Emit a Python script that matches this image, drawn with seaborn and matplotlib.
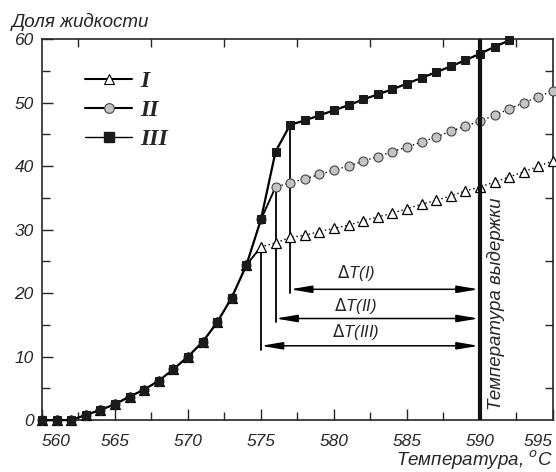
import numpy as np
import pandas as pd
import matplotlib
matplotlib.use("Agg")
import matplotlib.pyplot as plt
import seaborn as sns
from matplotlib.lines import Line2D

# temperatures, deg C
temp_III = list(range(560, 593))
temp_II = list(range(560, 596))
temp_I = list(range(560, 596))

# shared part of the curve (560..574)
low = [0, 0, 0, 0.8, 1.6, 2.5, 3.7, 4.8, 6.2, 8.0, 10.0, 12.3, 15.4, 19.3, 24.4]

frac_III = low + [31.6, 42.3, 46.5, 47.2, 48.0, 48.8, 49.6, 50.5, 51.3, 52.1, 53.0,
                  53.9, 54.8, 55.7, 56.7, 57.7, 58.8, 59.8]
frac_II = low + [31.6, 36.7, 37.4, 38.0, 38.7, 39.4, 40.0, 40.8, 41.5, 42.3, 43.0,
                 43.8, 44.6, 45.5, 46.3, 47.1, 48.0, 49.0, 50.0, 50.9, 51.9]
frac_I = low + [27.3, 27.9, 28.8, 29.1, 29.7, 30.2, 30.7, 31.4, 32.0, 32.6, 33.3,
                34.0, 34.6, 35.3, 36.1, 36.7, 37.5, 38.3, 39.1, 40.0, 40.8]

hold_temp = 590
# start temperatures and heights of the delta-T arrows
dt_labels = ['$\\Delta$T(I)', '$\\Delta$T(II)', '$\\Delta$T(III)']
dt_start = [577, 576, 575]
dt_top = [46.5, 36.7, 27.3]
dt_y = [20.6, 16.0, 11.7]
dt_text_y = [23.1, 17.9, 13.8]

sns.set_style("ticks")
plt.rcParams['font.family'] = ['Liberation Sans', 'DejaVu Sans']

fig = plt.figure(figsize=(5.56, 4.72), dpi=100)
ax = fig.add_axes([0.0755, 0.110, 0.919, 0.807])

sns.lineplot(x=temp_I, y=frac_I, ax=ax, color='black', lw=1.0, ls=(0, (1, 2)),
             marker='^', markersize=6.8, markerfacecolor='white', markeredgecolor='black',
             markeredgewidth=0.9, clip_on=False, zorder=3)
sns.lineplot(x=temp_II, y=frac_II, ax=ax, color='black', lw=1.0, ls=(0, (1, 2)),
             marker='o', markersize=6.5, markerfacecolor='#c4c4c4', markeredgecolor='#444444',
             markeredgewidth=0.8, clip_on=False, zorder=3)
# connecting segments at the split points
ax.plot([574, 575], [frac_I[14], frac_I[15]], color='black', lw=1.3, zorder=2)
ax.plot([575, 576], [frac_II[15], frac_II[16]], color='black', lw=1.3, zorder=2)
sns.lineplot(x=temp_III, y=frac_III, ax=ax, color='black', lw=1.6,
             marker='s', markersize=6, markerfacecolor='#1a1a1a', markeredgecolor='#1a1a1a',
             clip_on=False, zorder=4)

# holding temperature line
ax.axvline(hold_temp, color='#111111', lw=3, zorder=5)
ax.text(hold_temp + 1.1, 1.6, 'Температура выдержки', rotation=90, ha='center', va='bottom',
        fontsize=13.5, style='italic')

# delta T arrows
for lab, x0, top, y, ty in zip(dt_labels, dt_start, dt_top, dt_y, dt_text_y):
    ax.plot([x0, x0], [top, y - 0.6], color='black', lw=1.3, zorder=2)
    ax.annotate('', xy=(x0, y), xytext=(hold_temp, y),
                arrowprops=dict(arrowstyle='<|-|>,head_length=1.3,head_width=0.22',
                                color='black', lw=1.1, shrinkA=1, shrinkB=0))
    ax.text(581.5, ty, lab, ha='center', va='center', fontsize=12, style='italic')

ax.set_xlim(560, 595)
ax.set_ylim(0, 60)
ax.set_xticks(range(560, 596, 5))
ax.set_xticks(np.arange(560, 596, 2.5), minor=True)
ax.set_yticks(range(0, 61, 10))
ax.set_yticks(range(0, 61, 5), minor=True)
ax.tick_params(which='major', direction='in', length=8, width=1.0, labelsize=12.5, pad=6)
ax.tick_params(axis='x', which='major', pad=10)
ax.tick_params(which='minor', direction='in', length=6, width=1.0, top=True, right=True)
for t in ax.get_xticklabels() + ax.get_yticklabels():
    t.set_style('italic')
xl = ax.get_xticklabels()
xl[0].set_ha('left')
xl[-1].set_ha('right')
for s in ax.spines.values():
    s.set_linewidth(1.2)
    s.set_visible(True)
ax.set_xlabel('')
ax.set_ylabel('')

fig.text(0.022, 0.954, 'Доля жидкости', fontsize=13.5, style='italic', va='center', ha='left')
fig.text(0.995, 0.024, 'Температура, $^{o}$C', fontsize=13.5, style='italic', va='center', ha='right')

handles = [
    Line2D([], [], color='black', lw=1.5, marker='^', markersize=7, markerfacecolor='white',
           markeredgecolor='black', markeredgewidth=0.8),
    Line2D([], [], color='black', lw=1.5, marker='o', markersize=7, markerfacecolor='#c4c4c4',
           markeredgecolor='#444444', markeredgewidth=0.8),
    Line2D([], [], color='black', lw=1.0, marker='s', markersize=6.5, markerfacecolor='#1a1a1a',
           markeredgecolor='#1a1a1a'),
]
ax.legend(handles, ['I', 'II', 'III'], loc='upper left', bbox_to_anchor=(0.084, 0.918),
          frameon=False, handlelength=2.0, labelspacing=0.32, handletextpad=0.35,
          borderpad=0, borderaxespad=0,
          prop=dict(family='Liberation Serif', weight='bold', style='italic', size=17))

fig.savefig('out.png', dpi=100)
